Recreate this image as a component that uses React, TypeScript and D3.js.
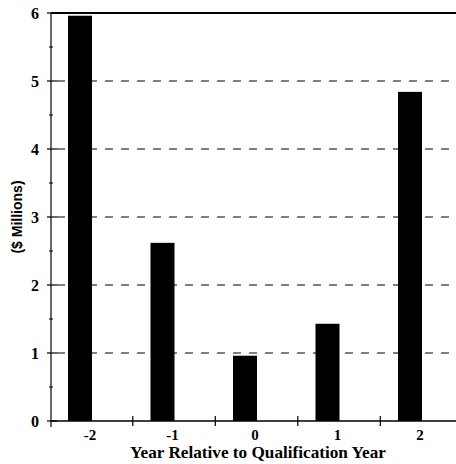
import React from "react";
import * as d3 from "d3";

const categories = [-2, -1, 0, 1, 2];
const values = [5.96, 2.62, 0.96, 1.43, 4.84];
const yTicks = [0, 1, 2, 3, 4, 5, 6];
const gridValues = [1, 2, 3, 4, 5];
const xTitle = "Year Relative to Qualification Year";
const yTitle = "($ Millions)";

export default function App() {
  const W = 456, H = 464;
  const axisX = 51, rightX = 456;
  const x = d3.scaleLinear().domain([-2, 2]).range([80, 410]);
  const y = d3.scaleLinear().domain([0, 6]).range([421, 13]);
  const barW = 24;
  const minor = d3.range(0.5, 6, 1);
  const xTickPos = categories.slice(0, 4).map((c) => c + 0.64);
  const font = "'Liberation Serif', 'Times New Roman', serif";
  return (
    <svg width={W} height={H} style={{ position: "absolute", left: 0, top: 0, background: "#fff" }}>
      {gridValues.map((g) => (
        <line key={g} x1={axisX + 6} x2={rightX} y1={y(g)} y2={y(g)} stroke="#000" strokeWidth={1.2} strokeDasharray="8,8" />
      ))}
      <line x1={axisX} x2={rightX} y1={y(6)} y2={y(6)} stroke="#000" strokeWidth={2} />
      {categories.map((c, i) => (
        <rect key={c} x={x(c) - barW / 2} width={barW} y={y(values[i])} height={y(0) - y(values[i])} fill="#000" />
      ))}
      <line x1={axisX} x2={axisX} y1={y(6)} y2={y(0) + 6} stroke="#000" strokeWidth={1.2} />
      <line x1={axisX} x2={rightX} y1={y(0)} y2={y(0)} stroke="#000" strokeWidth={1.5} />
      {yTicks.map((t) => (
        <g key={t}>
          <line x1={axisX - 4} x2={axisX + 6} y1={y(t)} y2={y(t)} stroke="#000" strokeWidth={1.2} />
          <text x={39} y={y(t)} dy="0.35em" textAnchor="end" fontFamily={font} fontWeight="bold" fontSize={16}>{t}</text>
        </g>
      ))}
      {minor.map((t) => (
        <line key={t} x1={axisX - 2} x2={axisX + 2} y1={y(t)} y2={y(t)} stroke="#000" strokeWidth={1} />
      ))}
      {xTickPos.map((t, i) => (
        <line key={i} x1={x(t)} x2={x(t)} y1={y(0) - 5} y2={y(0) + 5} stroke="#000" strokeWidth={1.2} />
      ))}
      {categories.map((c) => (
        <text key={c} x={x(c + 0.12)} y={440} textAnchor="middle" fontFamily={font} fontWeight="bold" fontSize={15}>{c}</text>
      ))}
      <text x={258} y={458} textAnchor="middle" fontFamily={font} fontWeight="bold" fontSize={17.2}>{xTitle}</text>
      <text transform={`translate(22,217) rotate(-90)`} textAnchor="middle" fontFamily="'Liberation Sans', Arial, sans-serif" fontWeight="bold" fontSize={14}>{yTitle}</text>
    </svg>
  );
}
